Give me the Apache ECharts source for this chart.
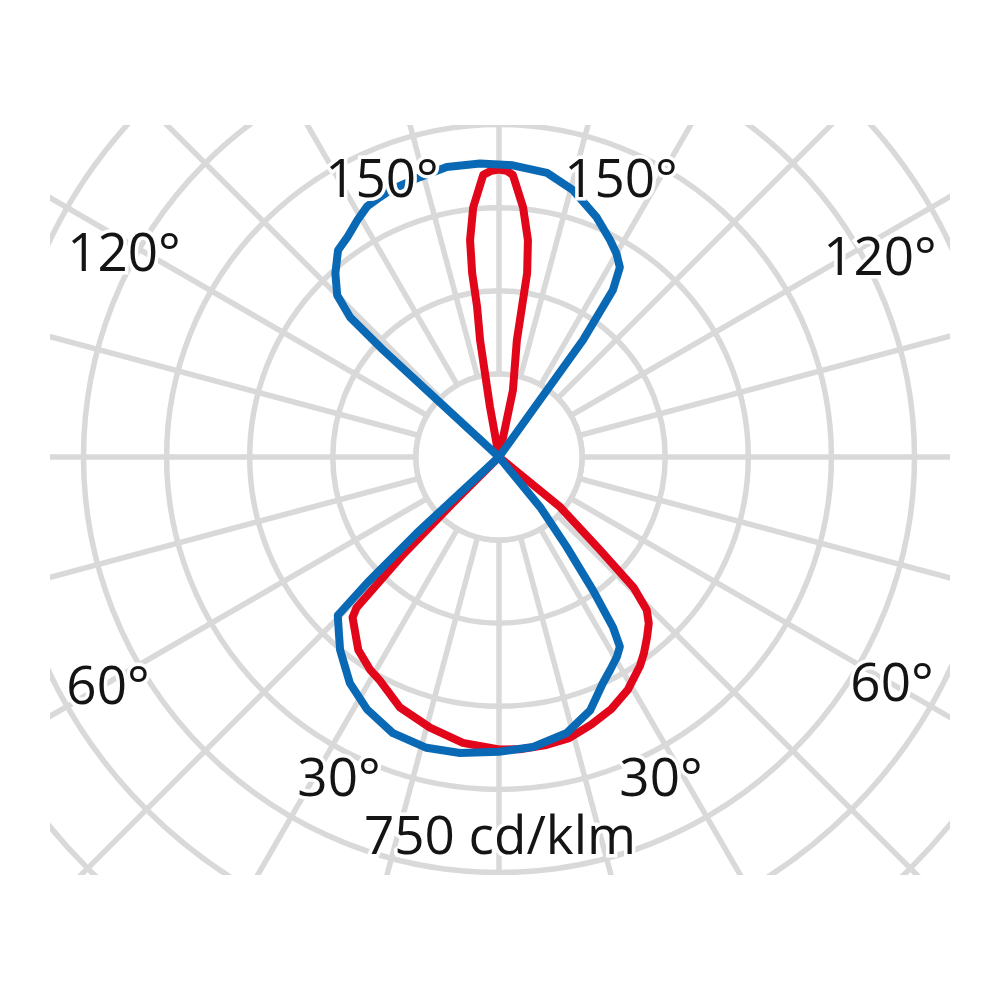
<!DOCTYPE html>
<html>
<head>
<meta charset="utf-8">
<script src="https://cdn.jsdelivr.net/npm/echarts@6/dist/echarts.min.js"></script>
<style>
  html, body { margin: 0; padding: 0; background: #ffffff; }
  #wrap { position: absolute; left: 50px; top: 125px; width: 900px; height: 750px; overflow: hidden; }
  #chart { width: 900px; height: 750px; }
</style>
</head>
<body>
<div id="wrap"><div id="chart"></div></div>
<script>
// Angles: 0° = straight down (nadir), increasing towards the left side, 180° = up, 360° = back down.
// Intensities in cd/klm. Each curve passes through the centre (value 0) twice.
const blueAngles = [0, 7.5, 14, 21, 27.6, 33.4, 39.5, 42.5, 45.5, 46.3, 47.2, 90,
  132.7, 133.2, 135, 138.3, 142.1, 145.4, 149.1, 152.2, 155.4, 157.8, 164.2, 169.8, 176.3,
  182.7, 189.6, 195.5, 202.2, 207.1, 210, 212.5, 214.3, 215.7, 270,
  320.6, 323, 324.8, 326.2, 327.5, 329.5, 332.5, 335.3, 340.2, 346.2, 353.3, 360];
const blueValues = [532, 539, 541, 534, 514, 489, 451, 428, 408, 329, 202, 0,
  285, 369, 413, 444, 473, 482, 498, 511, 516, 520, 525, 532, 531,
  527, 520, 500, 467, 440, 424, 406, 365, 260, 0,
  117, 202, 294, 370, 406, 419, 434, 449, 486, 513, 527, 532];

const redAngles = [0, 7.2, 14.3, 21.6, 28.1, 31.2, 36.1, 37.4, 42.4, 43.4, 44.5, 45, 100,
  169.8, 170.8, 171.7, 171.7, 172.4, 174.1, 176.8, 178.5, 180, 181.5, 182.8, 185.5, 187.6, 188.7, 188.7, 188.7, 191.8, 250,
  309.3, 312.6, 314.1, 316, 318, 320.6, 323.5, 326, 331, 336, 341, 346, 351, 356, 360];
const redValues = [528, 520, 504, 486, 457, 449, 431, 422, 392, 374, 250, 120, 0,
  92, 213, 274, 336, 395, 453, 510, 517, 519, 517, 510, 453, 395, 336, 274, 213, 123, 0,
  143, 247, 338, 384, 404, 421, 440, 455, 480, 498, 511, 523, 527, 529, 528];

const ringStep = 150;      // cd/klm per ring
const ringCount = 8;
const angleStep = 15;      // degrees between spokes

const angleLabels = ['150°', '150°', '120°', '120°', '60°', '60°', '30°', '30°'];
const unitLabel = '750 cd/klm';

// ---- layout (pixels inside the 900x750 frame) ----
const cx = 449, cy = 332, ringPx = 83.1;
const labelPos = [[332, 57], [571, 57], [74, 131], [830, 135], [58, 564], [842, 561], [289, 656], [611, 656]];
const unitPos = [450, 714];

function pairs(angles, values) {
  return angles.map((a, i) => [values[i], a]);
}

const gridColor = '#d9d9d9';
const gridWidth = 5.5;
const fontFamily = '"Open Sans", "Noto Sans", sans-serif';

const textEls = angleLabels.map((t, i) => ({
  type: 'text', x: labelPos[i][0], y: labelPos[i][1], z: 100,
  style: { text: t, fill: '#141414', font: '53px ' + fontFamily, align: 'center', verticalAlign: 'middle',
    stroke: '#ffffff', lineWidth: 7 }
}));
textEls.push({
  type: 'text', x: unitPos[0], y: unitPos[1], z: 100,
  style: { text: unitLabel, fill: '#141414', font: '53px ' + fontFamily, align: 'center', verticalAlign: 'middle',
    stroke: '#ffffff', lineWidth: 7 }
});

const chart = echarts.init(document.getElementById('chart'), null, { renderer: 'canvas' });
chart.setOption({
  animation: false,
  backgroundColor: '#ffffff',
  polar: { center: [cx, cy], radius: ringPx * ringCount },
  angleAxis: {
    type: 'value', min: 0, max: 360, interval: angleStep, startAngle: 270, clockwise: true,
    axisLine: { show: false }, axisTick: { show: false }, axisLabel: { show: false },
    splitLine: { show: true, lineStyle: { color: gridColor, width: gridWidth } }
  },
  radiusAxis: {
    type: 'value', min: 0, max: ringStep * ringCount, interval: ringStep,
    axisLine: { show: false }, axisTick: { show: false }, axisLabel: { show: false },
    splitLine: { show: true, lineStyle: { color: gridColor, width: gridWidth } }
  },
  graphic: [
    { type: 'circle', z: 1, shape: { cx: cx, cy: cy, r: ringPx },
      style: { fill: '#ffffff', stroke: gridColor, lineWidth: gridWidth } }
  ].concat(textEls),
  series: [
    { type: 'line', coordinateSystem: 'polar', z: 5, data: pairs(redAngles, redValues),
      symbol: 'none', smooth: false,
      lineStyle: { color: '#e2061b', width: 8, join: 'round', cap: 'round' } },
    { type: 'line', coordinateSystem: 'polar', z: 6, data: pairs(blueAngles, blueValues),
      symbol: 'none', smooth: false,
      lineStyle: { color: '#0a69b4', width: 8, join: 'round', cap: 'round' } }
  ]
});
</script>
</body>
</html>
